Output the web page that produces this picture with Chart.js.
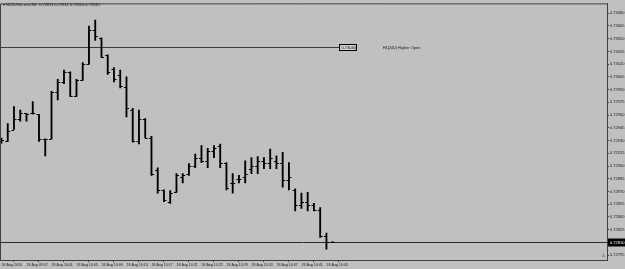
<!DOCTYPE html>
<html>
<head>
<meta charset="utf-8">
<script src="https://cdn.jsdelivr.net/npm/chart.js@4.4.1/dist/chart.umd.min.js"></script>
<style>
    html, body { margin: 0; padding: 0; background: #c0c0c0; }
    #wrap { width: 625px; height: 269px; }
</style>
</head>
<body>
<div id="wrap"><canvas id="myChart" width="625" height="269"></canvas></div>
<script>
//============================
//  data (NZDUSD.ecn, M1)
//============================
const times = [
    '09:53', '09:54', '09:55', '09:56', '09:57', '09:58', '09:59', '10:00', '10:01', '10:02',
    '10:03', '10:04', '10:05', '10:06', '10:07', '10:08', '10:09', '10:10', '10:11', '10:12',
    '10:13', '10:14', '10:15', '10:16', '10:17', '10:18', '10:19', '10:20', '10:21', '10:22',
    '10:23', '10:24', '10:25', '10:26', '10:27', '10:28', '10:29', '10:30', '10:31', '10:32',
    '10:33', '10:34', '10:35', '10:36', '10:37', '10:38', '10:39', '10:40', '10:41', '10:42',
    '10:43', '10:44', '10:45', '10:46'
];
const opens = [
    0.72931, 0.72929, 0.72943, 0.72955, 0.72962, 0.72962, 0.72961, 0.72932, 0.72932, 0.72987,
    0.72999, 0.73011, 0.72982, 0.73001, 0.73020, 0.73060, 0.73051, 0.73031, 0.73014, 0.73007,
    0.72993, 0.72966, 0.72929, 0.72955, 0.72933, 0.72895, 0.72872, 0.72858, 0.72869, 0.72887,
    0.72891, 0.72900, 0.72909, 0.72906, 0.72918, 0.72924, 0.72903, 0.72880, 0.72885, 0.72887,
    0.72897, 0.72900, 0.72906, 0.72903, 0.72906, 0.72903, 0.72883, 0.72872, 0.72854, 0.72858,
    0.72854, 0.72848, 0.72818, 0.72811
];
const highs = [
    0.72933, 0.72950, 0.72970, 0.72966, 0.72962, 0.72976, 0.72961, 0.72932, 0.72988, 0.73002,
    0.73013, 0.73011, 0.73002, 0.73022, 0.73065, 0.73072, 0.73051, 0.73031, 0.73016, 0.73013,
    0.73005, 0.72968, 0.72966, 0.72956, 0.72935, 0.72898, 0.72872, 0.72871, 0.72891, 0.72891,
    0.72903, 0.72914, 0.72924, 0.72921, 0.72924, 0.72926, 0.72904, 0.72891, 0.72889, 0.72906,
    0.72910, 0.72911, 0.72910, 0.72920, 0.72912, 0.72916, 0.72904, 0.72873, 0.72868, 0.72869,
    0.72856, 0.72851, 0.72821, 0.72811
];
const lows = [
    0.72927, 0.72929, 0.72943, 0.72953, 0.72953, 0.72961, 0.72929, 0.72912, 0.72932, 0.72978,
    0.72997, 0.72982, 0.72982, 0.73001, 0.73020, 0.73048, 0.73028, 0.73008, 0.72999, 0.72992,
    0.72958, 0.72928, 0.72926, 0.72933, 0.72889, 0.72868, 0.72858, 0.72856, 0.72869, 0.72880,
    0.72889, 0.72898, 0.72904, 0.72898, 0.72910, 0.72898, 0.72872, 0.72868, 0.72880, 0.72880,
    0.72891, 0.72891, 0.72897, 0.72897, 0.72897, 0.72875, 0.72872, 0.72847, 0.72850, 0.72847,
    0.72847, 0.72816, 0.72802, 0.72810
];
const closes = [
    0.72931, 0.72941, 0.72955, 0.72962, 0.72961, 0.72962, 0.72932, 0.72932, 0.72987, 0.72999,
    0.73011, 0.72982, 0.73001, 0.73020, 0.73060, 0.73053, 0.73028, 0.73011, 0.73002, 0.72994,
    0.72968, 0.72929, 0.72955, 0.72933, 0.72891, 0.72872, 0.72860, 0.72868, 0.72889, 0.72889,
    0.72900, 0.72909, 0.72906, 0.72918, 0.72921, 0.72903, 0.72874, 0.72880, 0.72885, 0.72891,
    0.72900, 0.72906, 0.72904, 0.72910, 0.72903, 0.72883, 0.72887, 0.72854, 0.72858, 0.72854,
    0.72848, 0.72818, 0.72811, 0.72810
];

const yTicks = [
    0.73080, 0.73065, 0.73050, 0.73035, 0.73020, 0.73005, 0.72990, 0.72975, 0.72960, 0.72945,
    0.72930, 0.72915, 0.72900, 0.72885, 0.72870, 0.72855, 0.72840, 0.72825, 0.72810, 0.72795
];
const xTickIdx = [0, 4, 8, 12, 16, 20, 24, 28, 32, 36, 40, 44, 48, 52];
const xTickLabels = [
    '18 Aug 2016', '18 Aug 09:57', '18 Aug 10:01', '18 Aug 10:05', '18 Aug 10:09',
    '18 Aug 10:13', '18 Aug 10:17', '18 Aug 10:21', '18 Aug 10:25', '18 Aug 10:29',
    '18 Aug 10:33', '18 Aug 10:37', '18 Aug 10:41', '18 Aug 10:45'
];

const headerText = '\u25BE NZDUSD.ecn,M1  0.72811 0.72811 0.72810 0.72810';
const hLinePrice = 0.73040;
const hLineEndIdx = 54;
const hLineTextIdx = 61;
const hLineText = 'H1[240] Higher Open';

const INK = '#1a1a1a';
const FONT = '"Liberation Sans", Arial, sans-serif';

// open / close ticks + overlays
const ohlcTicks = {
    id: 'ohlcTicks',
    beforeDatasetsDraw(chart) {
        const { ctx, chartArea: a, scales: { x, y } } = chart;
        ctx.save();
        // horizontal level line
        const yh = Math.round(y.getPixelForValue(hLinePrice)) + 0.5;
        ctx.strokeStyle = '#3c3c3c';
        ctx.lineWidth = 1;
        ctx.beginPath();
        ctx.moveTo(a.left, yh);
        ctx.lineTo(x.getPixelForValue(hLineEndIdx), yh);
        ctx.stroke();
        // bid line
        const yb = Math.round(y.getPixelForValue(closes[closes.length - 1])) + 0.5;
        ctx.strokeStyle = '#2a2a2a';
        ctx.beginPath();
        ctx.moveTo(a.left, yb);
        ctx.lineTo(a.right, yb);
        ctx.stroke();
        ctx.restore();
    },
    afterDatasetsDraw(chart) {
        const { ctx, scales: { x, y } } = chart;
        ctx.save();
        ctx.strokeStyle = '#000';
        ctx.lineWidth = 1;
        ctx.beginPath();
        times.forEach((t, i) => {
            const px = x.getPixelForValue(i);
            const yo = Math.round(y.getPixelForValue(opens[i])) + 0.5;
            const yc = Math.round(y.getPixelForValue(closes[i])) + 0.5;
            ctx.moveTo(px - 2.5, yo); ctx.lineTo(px, yo);
            ctx.moveTo(px, yc); ctx.lineTo(px + 2.5, yc);
        });
        ctx.stroke();
        ctx.restore();
    },
    afterDraw(chart) {
        const { ctx, chartArea: a, scales: { x, y } } = chart;
        ctx.save();
        // frame top + left
        ctx.strokeStyle = '#404040';
        ctx.lineWidth = 1;
        ctx.beginPath();
        ctx.moveTo(a.left + 0.5, a.bottom);
        ctx.lineTo(a.left + 0.5, a.top + 0.5);
        ctx.lineTo(a.right, a.top + 0.5);
        ctx.stroke();

        ctx.font = '4px ' + FONT;
        ctx.textBaseline = 'middle';

        // header
        ctx.fillStyle = INK;
        ctx.textAlign = 'left';
        ctx.fillText(headerText, 3, 4.5);

        // level label box
        const yh = Math.round(y.getPixelForValue(hLinePrice)) + 0.5;
        const bx = Math.round(x.getPixelForValue(hLineEndIdx)) + 0.5;
        ctx.fillStyle = '#d4d4d4';
        ctx.fillRect(bx, yh - 3, 17, 6);
        ctx.strokeStyle = '#000';
        ctx.strokeRect(bx, yh - 3, 17, 6);
        ctx.fillStyle = '#000';
        ctx.fillText(hLinePrice.toFixed(5), bx + 2, yh + 0.3);
        ctx.fillStyle = INK;
        ctx.fillText(hLineText, x.getPixelForValue(hLineTextIdx), yh + 0.3);

        // bid price box on the axis
        const bid = closes[closes.length - 1];
        const yb = Math.round(y.getPixelForValue(bid)) + 0.5;
        ctx.fillStyle = '#000';
        ctx.fillRect(a.right + 1, yb - 4, 625 - a.right - 1, 8);
        ctx.fillStyle = '#fff';
        ctx.fillText(bid.toFixed(5), a.right + 3, yb + 0.3);

        // chart shift marker
        ctx.fillStyle = '#8a8a8a';
        ctx.beginPath();
        ctx.moveTo(a.right - 5, a.bottom - 3);
        ctx.lineTo(a.right - 2, a.bottom - 3);
        ctx.lineTo(a.right - 3.5, a.bottom - 7);
        ctx.closePath();
        ctx.fill();
        ctx.restore();
    }
};

const ctx = document.getElementById('myChart').getContext('2d');

new Chart(ctx, {
    type: 'bar',
    data: {
        datasets: [{
            data: times.map((t, i) => ({ x: i, y: [lows[i], highs[i]] })),
            backgroundColor: '#000',
            borderWidth: 0,
            barThickness: 1.2
        }]
    },
    options: {
        responsive: false,
        animation: false,
        events: [],
        layout: { padding: 0 },
        plugins: {
            legend: { display: false },
            tooltip: { enabled: false }
        },
        scales: {
            x: {
                type: 'linear',
                offset: false,
                min: -0.24,
                max: 96.9,
                afterBuildTicks: (s) => { s.ticks = xTickIdx.map(v => ({ value: v })); },
                afterFit: (s) => { s.height = 9; },
                grid: { drawOnChartArea: false, tickLength: 2, color: '#404040' },
                border: { display: true, color: '#404040' },
                ticks: {
                    autoSkip: false,
                    maxRotation: 0,
                    minRotation: 0,
                    align: 'start',
                    padding: 1,
                    color: INK,
                    font: { size: 3.6, family: FONT },
                    callback: (v) => xTickLabels[xTickIdx.indexOf(v)]
                }
            },
            y: {
                position: 'right',
                min: 0.727893,
                max: 0.730916,
                afterBuildTicks: (s) => { s.ticks = yTicks.map(v => ({ value: v })); },
                afterFit: (s) => { s.width = 18; },
                grid: { drawOnChartArea: false, tickLength: 2, color: '#404040' },
                border: { display: true, color: '#404040' },
                ticks: {
                    autoSkip: false,
                    padding: 1,
                    color: INK,
                    font: { size: 4, family: FONT },
                    callback: (v) => v.toFixed(5)
                }
            }
        }
    },
    plugins: [ohlcTicks]
});
</script>
</body>
</html>
